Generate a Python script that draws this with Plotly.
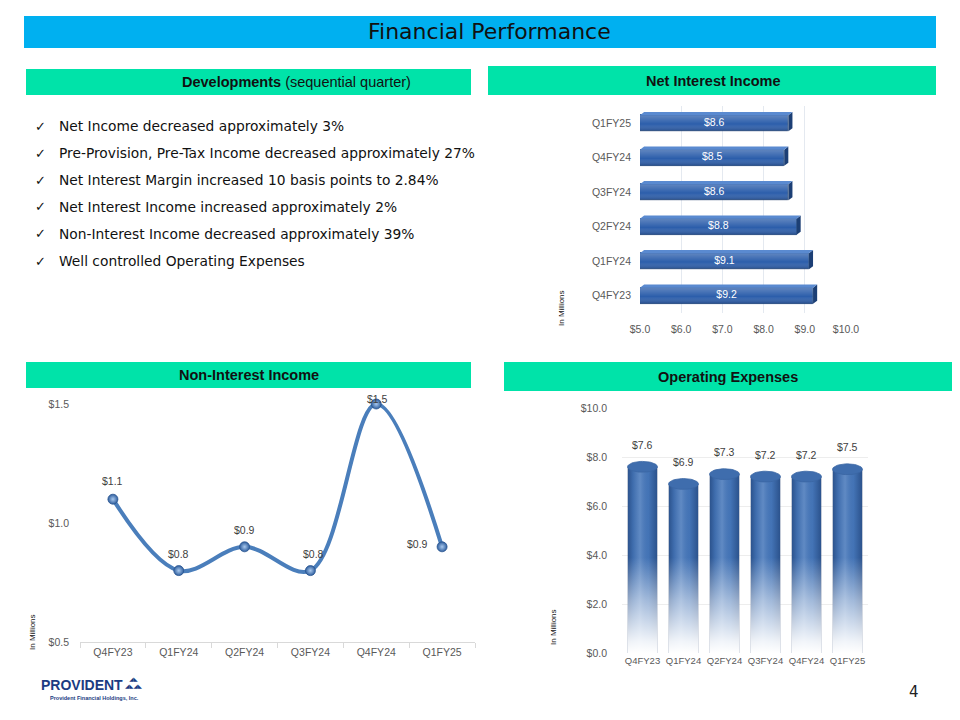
import math
import plotly.graph_objects as go

W, H = 960, 720


def px(x):
    return x / W


def py(y):
    return 1 - y / H


# ---------------- data ----------------
title_text = "Financial Performance"
dev_header = "<b>Developments</b> (sequential quarter)"
bullets = [
    "Net Income decreased approximately 3%",
    "Pre-Provision, Pre-Tax Income decreased approximately 27%",
    "Net Interest Margin increased 10 basis points to 2.84%",
    "Net Interest Income increased approximately 2%",
    "Non-Interest Income decreased approximately 39%",
    "Well controlled Operating Expenses",
]

quarters = ["Q4FY23", "Q1FY24", "Q2FY24", "Q3FY24", "Q4FY24", "Q1FY25"]

nii_title = "Net Interest Income"
nii_values = [9.2, 9.1, 8.8, 8.6, 8.5, 8.6]
nii_ticks = [5.0, 6.0, 7.0, 8.0, 9.0, 10.0]

nonint_title = "Non-Interest Income"
nonint_values = [1.1, 0.8, 0.9, 0.8, 1.5, 0.9]
nonint_ticks = [0.5, 1.0, 1.5]

opex_title = "Operating Expenses"
opex_values = [7.6, 6.9, 7.3, 7.2, 7.2, 7.5]
opex_ticks = [0.0, 2.0, 4.0, 6.0, 8.0, 10.0]

unit_label = "In Millions"
page_number = "4"

# ---------------- style ----------------
GREEN = "#00E3A9"
BLUE_BAR = "#00B0F0"
TXT = "#404040"
TICK_FONT = dict(family="Liberation Sans, Arial", size=10.5, color="#595959")

fig = go.Figure()

# ======== Net Interest Income (horizontal 3D-ish bars) ========
nii_y = list(range(len(quarters)))
bar_h = 0.47
fig.add_trace(go.Bar(
    x=[v - nii_ticks[0] for v in nii_values], base=[nii_ticks[0]] * len(nii_values),
    y=nii_y, orientation="h", width=bar_h,
    marker=dict(color="#2C5EAB", line=dict(color="#1E4A88", width=0.8)),
    xaxis="x", yaxis="y", showlegend=False, hoverinfo="skip",
))
d_x, d_y = 0.1, 0.09
for i, v in enumerate(nii_values):
    fig.add_trace(go.Scatter(
        x=[nii_ticks[0], v, v, nii_ticks[0], nii_ticks[0]],
        y=[i - bar_h / 2, i - bar_h / 2, i + bar_h / 2, i + bar_h / 2, i - bar_h / 2],
        mode="lines", line=dict(width=0), fill="toself",
        fillgradient=dict(type="vertical", colorscale=[
            [0, "rgba(10,30,70,0.35)"], [0.45, "rgba(255,255,255,0.0)"], [1, "rgba(255,255,255,0.25)"]]),
        xaxis="x", yaxis="y", showlegend=False, hoverinfo="skip"))
    fig.add_trace(go.Scatter(
        x=[v, v + d_x, v + d_x, v, v],
        y=[i - bar_h / 2, i - bar_h / 2 + d_y, i + bar_h / 2 + d_y, i + bar_h / 2, i - bar_h / 2],
        mode="lines", line=dict(width=0), fill="toself", fillcolor="#1C3F75",
        xaxis="x", yaxis="y", showlegend=False, hoverinfo="skip"))
    fig.add_trace(go.Scatter(
        x=[nii_ticks[0], v, v + d_x, nii_ticks[0] + d_x, nii_ticks[0]],
        y=[i + bar_h / 2, i + bar_h / 2, i + bar_h / 2 + d_y, i + bar_h / 2 + d_y, i + bar_h / 2],
        mode="lines", line=dict(width=0), fill="toself", fillcolor="#5A8AD0",
        xaxis="x", yaxis="y", showlegend=False, hoverinfo="skip"))
fig.add_trace(go.Scatter(
    x=[(nii_ticks[0] + v) / 2 for v in nii_values], y=nii_y, mode="text",
    text=[f"${v:.1f}" for v in nii_values],
    textfont=dict(family="Liberation Sans, Arial", size=10.5, color="white"),
    xaxis="x", yaxis="y", showlegend=False, hoverinfo="skip"))

# ======== Non-Interest Income (smoothed line) ========
fig.add_trace(go.Scatter(
    x=quarters, y=nonint_values, mode="lines+markers",
    line=dict(color="#4A7EBB", width=4, shape="spline", smoothing=1.0),
    marker=dict(size=10, color="#2F5E9E", line=dict(color="#2A5590", width=0.8),
                gradient=dict(type="radial", color="#A9C9EE")),
    xaxis="x2", yaxis="y2", showlegend=False, hoverinfo="skip", cliponaxis=False))

nonint_shift = [(0, 18), (0, 17), (0, 17), (3, 17), (1, 5), (-25, 3)]
annotations = []
for q, v, (sx, sy) in zip(quarters, nonint_values, nonint_shift):
    annotations.append(dict(
        x=q, y=v, xref="x2", yref="y2", text=f"${v:.1f}", showarrow=False,
        xanchor="center", yanchor="middle",
        xshift=sx, yshift=sy, font=dict(family="Liberation Sans, Arial", size=10.5, color=TXT)))

# ======== Operating Expenses (cylinders) ========
ox = list(range(len(quarters)))
bw = 0.73
fig.add_trace(go.Bar(
    x=ox, y=opex_values, width=bw, marker=dict(color="#4677BA", line=dict(width=0)),
    xaxis="x3", yaxis="y3", showlegend=False, hoverinfo="skip"))
for i, v in enumerate(opex_values):
    fig.add_trace(go.Scatter(
        x=[i - bw / 2, i + bw / 2, i + bw / 2, i - bw / 2, i - bw / 2],
        y=[0, 0, v, v, 0], mode="lines", line=dict(width=0), fill="toself",
        fillgradient=dict(type="horizontal", colorscale=[
            [0, "rgba(20,50,100,0.55)"], [0.18, "rgba(20,50,100,0.15)"],
            [0.42, "rgba(255,255,255,0.14)"], [0.7, "rgba(20,50,100,0.05)"],
            [1, "rgba(20,50,100,0.55)"]]),
        xaxis="x3", yaxis="y3", showlegend=False, hoverinfo="skip"))
fade_top = 3.9
fx, fy = [], []
for i, v in enumerate(opex_values):
    fx += [i - bw / 2, i + bw / 2, i + bw / 2, i - bw / 2, i - bw / 2, None]
    fy += [0, 0, fade_top, fade_top, 0, None]
fig.add_trace(go.Scatter(
    x=fx, y=fy, mode="lines", line=dict(width=0), fill="toself",
    fillgradient=dict(type="vertical", colorscale=[
        [0, "rgba(255,255,255,1)"], [0.12, "rgba(255,255,255,0.92)"],
        [0.55, "rgba(255,255,255,0.5)"], [1, "rgba(255,255,255,0)"]]),
    xaxis="x3", yaxis="y3", showlegend=False, hoverinfo="skip"))
ex, ey = [], []
n = 40
for i, v in enumerate(opex_values):
    for k in range(n + 1):
        t = 2 * math.pi * k / n
        ex.append(i + bw / 2 * math.cos(t))
        ey.append(v + 0.22 * math.sin(t))
    ex.append(None)
    ey.append(None)
fig.add_trace(go.Scatter(
    x=ex, y=ey, mode="lines", line=dict(width=0.8, color="#3A66A3"), fill="toself",
    fillcolor="#3F6DAD", xaxis="x3", yaxis="y3", showlegend=False, hoverinfo="skip"))

for i, v in enumerate(opex_values):
    annotations.append(dict(
        x=i, y=v, xref="x3", yref="y3", text=f"${v:.1f}", showarrow=False, yshift=22,
        xanchor="center", yanchor="middle",
        font=dict(family="Liberation Sans, Arial", size=10.5, color=TXT)))

# ======== page furniture ========
shapes = [
    dict(type="rect", xref="paper", yref="paper", x0=px(24), x1=px(936), y0=py(48), y1=py(16),
         fillcolor=BLUE_BAR, line=dict(width=0), layer="below"),
    dict(type="rect", xref="paper", yref="paper", x0=px(26), x1=px(471), y0=py(95), y1=py(69),
         fillcolor=GREEN, line=dict(width=0), layer="below"),
    dict(type="rect", xref="paper", yref="paper", x0=px(488), x1=px(936), y0=py(95), y1=py(66),
         fillcolor=GREEN, line=dict(width=0), layer="below"),
    dict(type="rect", xref="paper", yref="paper", x0=px(26), x1=px(471), y0=py(388), y1=py(362),
         fillcolor=GREEN, line=dict(width=0), layer="below"),
    dict(type="rect", xref="paper", yref="paper", x0=px(504), x1=px(952), y0=py(391), y1=py(362),
         fillcolor=GREEN, line=dict(width=0), layer="below"),
]


def pa(x, y, text, size, family="Liberation Sans, Arial", xanchor="center", color="#111111", **kw):
    return dict(x=px(x), y=py(y), xref="paper", yref="paper", text=text, showarrow=False,
                xanchor=xanchor, yanchor="middle", font=dict(family=family, size=size, color=color), **kw)


annotations += [
    pa(489, 32, title_text, 22, family="DejaVu Sans"),
    pa(296, 82, dev_header, 14.5),
    pa(713, 81, f"<b>{nii_title}</b>", 14.5),
    pa(249, 375, f"<b>{nonint_title}</b>", 14.5),
    pa(728, 377, f"<b>{opex_title}</b>", 14.5),
]
bullet_y = [126, 153, 180, 207, 234, 261]
for b, yy in zip(bullets, bullet_y):
    annotations.append(pa(33, yy, "✓", 13, family="DejaVu Sans", xanchor="left"))
    annotations.append(pa(57, yy, b, 13.8, family="DejaVu Sans", xanchor="left"))

for (xx, yy) in [(561, 308), (32, 632), (553, 627)]:
    annotations.append(pa(xx, yy, unit_label, 8, textangle=-90))

annotations += [
    pa(914, 692, page_number, 15, family="DejaVu Sans", color="#222222"),
    pa(39, 685, "<b>PROVIDENT</b>", 14, xanchor="left", color="#1B3B82"),
    pa(48, 698, "<b>Provident Financial Holdings, Inc.</b>", 5.5, xanchor="left", color="#1B3B82"),
    pa(134, 682, "◢◣<br>◢◣◢◣", 5.5, family="DejaVu Sans", color="#1B3B82"),
]

NOAM = dict(automargin=False)
fig.update_layout(
    width=W, height=H, margin=dict(l=0, r=0, t=0, b=0, pad=0), autosize=False,
    paper_bgcolor="white", plot_bgcolor="rgba(0,0,0,0)",
    shapes=shapes, annotations=annotations, showlegend=False, bargap=0,
    xaxis=dict(domain=[px(640), px(846)], range=[5, 10], tickvals=nii_ticks,
               ticktext=[f"${t:.1f}" for t in nii_ticks], showgrid=True, gridcolor="#E4E9F0",
               zeroline=False, showline=False, tickfont=TICK_FONT, ticklabelstandoff=8,
               anchor="y", **NOAM),
    yaxis=dict(domain=[py(313), py(106)], range=[-0.5, 5.5], tickvals=nii_y, ticktext=quarters,
               showgrid=False, zeroline=False, showline=False, tickfont=TICK_FONT,
               ticklabelstandoff=8, anchor="x", **NOAM),
    xaxis2=dict(domain=[px(80), px(475)], type="category", range=[-0.5, 5.5],
                showline=True, linecolor="#D9D9D9", ticks="outside", tickson="boundaries",
                ticklen=5, tickcolor="#D9D9D9", showgrid=False, zeroline=False,
                tickfont=TICK_FONT, anchor="y2", **NOAM),
    yaxis2=dict(domain=[py(642), py(404)], range=[0.5, 1.5], tickvals=nonint_ticks,
                ticktext=[f"${t:.1f}" for t in nonint_ticks], showgrid=False, zeroline=False,
                showline=False, tickfont=TICK_FONT, ticklabelstandoff=10, anchor="x2", **NOAM),
    xaxis3=dict(domain=[px(622), px(868)], range=[-0.5, 5.5], tickvals=ox, ticktext=quarters,
                showgrid=False, zeroline=False, showline=False,
                tickfont=dict(family="Liberation Sans, Arial", size=9.5, color="#595959"),
                anchor="y3", **NOAM),
    yaxis3=dict(domain=[py(653), py(408)], range=[0, 10], tickvals=opex_ticks,
                ticktext=[f"${t:.1f}" for t in opex_ticks], showgrid=True, gridcolor="#EDEDED",
                zeroline=False, showline=False, tickfont=TICK_FONT, ticklabelstandoff=14,
                anchor="x3", **NOAM),
)

fig.write_html("out.html", config={"displayModeBar": False},
               post_script="document.body.style.margin='0';document.body.style.overflow='hidden';")
